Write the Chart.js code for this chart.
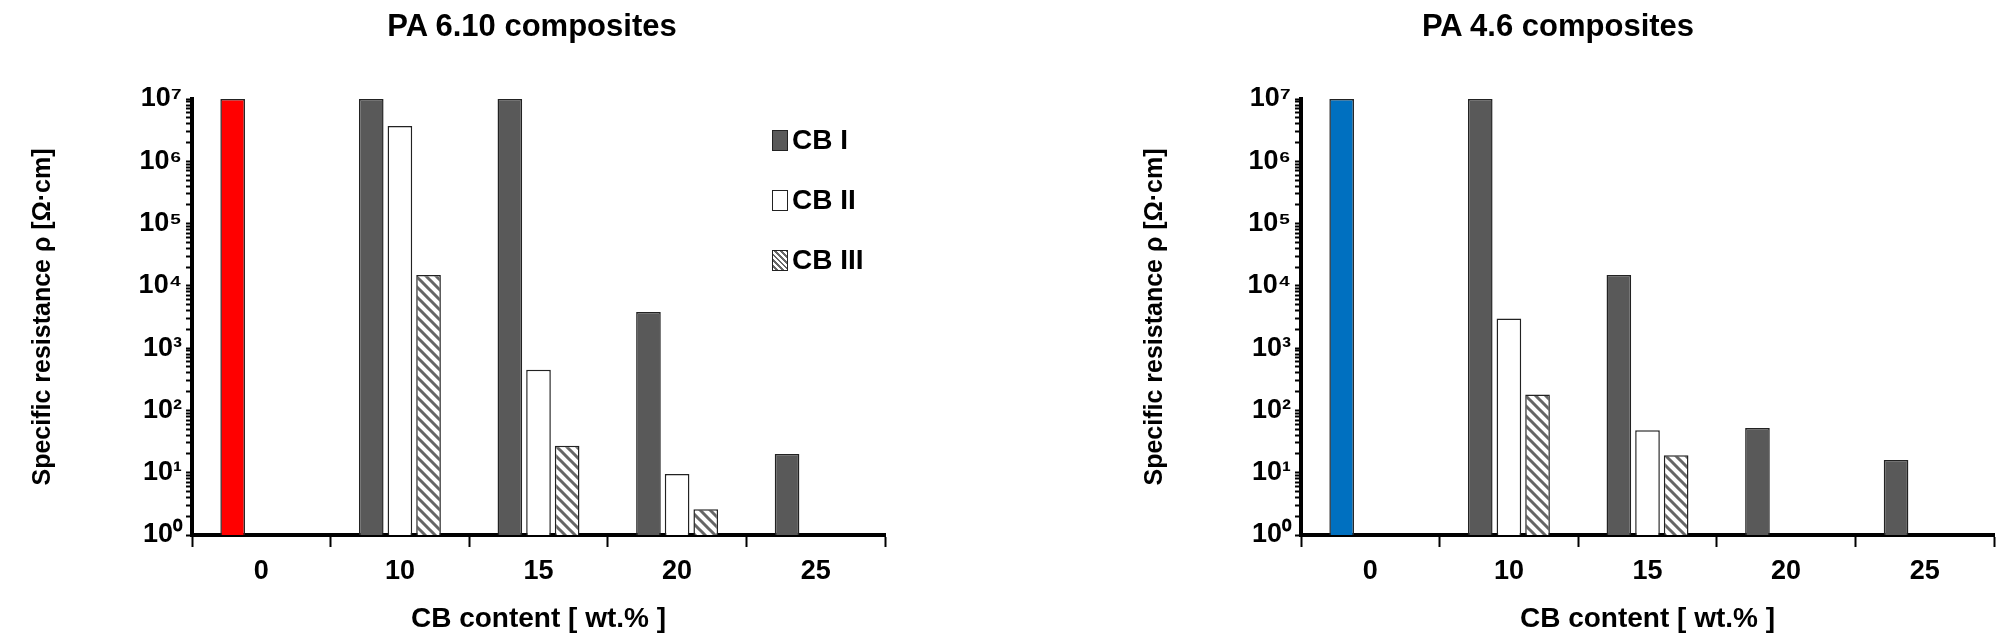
<!DOCTYPE html>
<html>
<head>
<meta charset="utf-8">
<script src="https://cdn.jsdelivr.net/npm/chart.js@4"></script>
<style>
  body { margin: 0; background: #fff; width: 2000px; height: 642px; position: relative; overflow: hidden;
         font-family: 'Liberation Sans Narrow', 'Liberation Sans', Arial, sans-serif; }
  .box { position: absolute; top: 0; height: 642px; }
  .title { position: absolute; top: 8px; font-weight: bold; font-size: 31px; transform: translateX(-50%); white-space: nowrap; }
  .legend { position: absolute; left: 772px; top: 124px; font-weight: bold; font-size: 28px; }
  .legend div { height: 60px; display: flex; align-items: flex-start; }
  .sw { width: 14px; height: 19px; border: 1px solid #222; margin-right: 4px; margin-top: 6px; }
</style>
</head>
<body>
<div class="box" style="left:0;width:1000px"><canvas id="c1"></canvas></div>
<div class="box" style="left:1000px;width:1000px"><canvas id="c2"></canvas></div>
<div class="title" style="left:532px">PA 6.10 composites</div>
<div class="title" style="left:1558px">PA 4.6 composites</div>
<div class="legend">
  <div><span class="sw" style="background:#595959"></span>CB I</div>
  <div><span class="sw" style="background:#fff"></span>CB II</div>
  <div><span class="sw" style="background:repeating-linear-gradient(45deg,#fff 0 2px,#666 2px 4px)"></span>CB III</div>
</div>
<script>
const categories = ['0', '10', '15', '20', '25'];
const pa610CB1 = [1e7, 1e7, 1e7, 3800, 20];
const pa610CB2 = [null, 3.7e6, 450, 9.5, null];
const pa610CB3 = [null, 1.5e4, 27, 2.6, null];
const pa46CB1 = [1e7, 1e7, 1.5e4, 52, 16];
const pa46CB2 = [null, 3000, 48, null, null];
const pa46CB3 = [null, 180, 19, null, null];
const sup = ['⁰', '¹', '²', '³', '⁴', '⁵', '⁶', '⁷'];

const font = 'Liberation Sans Narrow, Liberation Sans, Arial, sans-serif';

function hatch() {
  const p = document.createElement('canvas');
  p.width = 10; p.height = 10;
  const g = p.getContext('2d');
  g.fillStyle = '#fff'; g.fillRect(0, 0, 10, 10);
  g.strokeStyle = '#666'; g.lineWidth = 3;
  g.beginPath();
  g.moveTo(-5, -5); g.lineTo(15, 15);
  g.moveTo(-5, 5); g.lineTo(5, 15);
  g.moveTo(5, -5); g.lineTo(15, 5);
  g.stroke();
  return g.createPattern(p, 'repeat');
}

function makeChart(id, cb1, cb2, cb3, baseColor, padLeft, yWidth, padRight) {
  const ds = (label, data, bg) => ({
    label, data, backgroundColor: bg, borderColor: '#222', borderWidth: 1.5,
    barPercentage: 0.86, categoryPercentage: 0.62
  });
  new Chart(document.getElementById(id), {
    type: 'bar',
    data: {
      labels: categories,
      datasets: [
        ds('CB I', cb1, cb1.map((v, i) => i === 0 ? baseColor : '#595959')),
        ds('CB II', cb2, '#fff'),
        ds('CB III', cb3, hatch())
      ]
    },
    options: {
      responsive: true, maintainAspectRatio: false, animation: false,
      layout: { padding: { left: padLeft, right: padRight, top: 99, bottom: 2 } },
      plugins: { legend: { display: false }, tooltip: { enabled: false } },
      scales: {
        x: {
          grid: { offset: true, drawOnChartArea: false, tickLength: 12, tickWidth: 2, color: '#000' },
          border: { width: 4, color: '#000' },
          ticks: { color: '#000', font: { family: font, size: 27, weight: 'bold' }, padding: 8 },
          title: { display: true, text: 'CB content [ wt.% ]', color: '#000',
                   font: { family: font, size: 28, weight: 'bold' }, padding: { top: 10 } },
          afterFit: s => { s.height = 105; }
        },
        y: {
          type: 'logarithmic', min: 1, max: 1e7,
          afterBuildTicks: s => {
            const t = [];
            for (let e = 0; e < 7; e++) for (let m = 1; m < 10; m++) t.push({ value: m * Math.pow(10, e) });
            t.push({ value: 1e7 });
            s.ticks = t;
          },
          grid: { drawOnChartArea: false, tickLength: 6, tickWidth: 2, color: '#000' },
          border: { width: 4, color: '#000' },
          ticks: {
            autoSkip: false, color: '#000', font: { family: font, size: 27, weight: 'bold' }, padding: 4,
            callback: v => {
              const e = Math.log10(v);
              return Math.abs(e - Math.round(e)) < 1e-9 ? '10' + sup[Math.round(e)] : '';
            }
          },
          title: { display: true, text: 'Specific resistance ρ [Ω·cm]', color: '#000',
                   font: { family: 'Liberation Sans, Arial, sans-serif', size: 25, weight: 'bold' } },
          afterFit: s => { s.width = yWidth; }
        }
      }
    }
  });
}

makeChart('c1', pa610CB1, pa610CB2, pa610CB3, '#ff0000', 24, 168, 115);
makeChart('c2', pa46CB1, pa46CB2, pa46CB3, '#0070c0', 136, 165, 6);
</script>
</body>
</html>
